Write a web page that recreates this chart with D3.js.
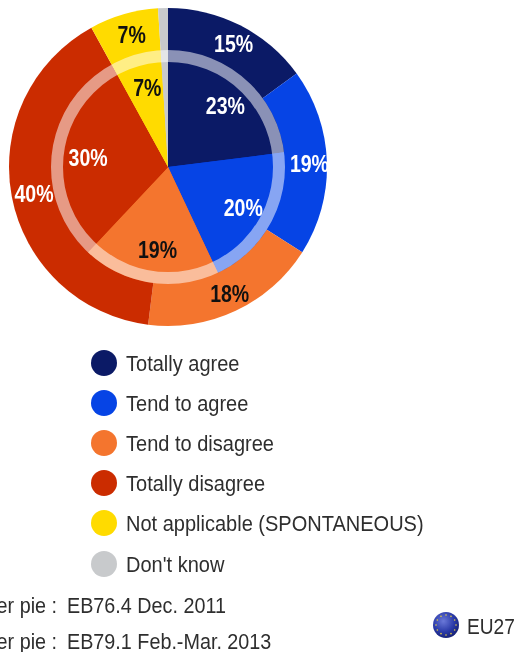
<!DOCTYPE html>
<html><head><meta charset="utf-8">
<script src="https://cdnjs.cloudflare.com/ajax/libs/d3/7.8.5/d3.min.js"></script>
<style>html,body{margin:0;padding:0;background:#fff;overflow:hidden}svg{display:block;filter:blur(.5px)}text{font-family:"Liberation Sans",Arial,sans-serif}</style>
</head><body><svg id="c" width="516" height="652"></svg>
<script>
const categories=["Totally agree","Tend to agree","Tend to disagree","Totally disagree","Not applicable (SPONTANEOUS)","Don't know"];
const colors=["#0B1A66","#0644E5","#F4752E","#CB2C00","#FFDB00","#C8CACC"];
const outerValues=[15,19,18,40,7,1];
const innerValues=[23,20,19,30,7,1];
const labelColors=["#fff","#fff","#111","#fff","#111",null];
const footerLabels=["Inner pie :","Outer pie :"];
const footerValues=["EB76.4 Dec. 2011","EB79.1 Feb.-Mar. 2013"];
const regionLabel="EU27";

const svg=d3.select("#c");
const cx=168,cy=167,R=159,r=117;
const g=svg.append("g").attr("transform",`translate(${cx},${cy})`);
const pie=d3.pie().sort(null).value(d=>d);

function ring(vals,rad,labelR){
  const arcs=pie(vals);
  const arc=d3.arc().innerRadius(0).outerRadius(rad);
  g.append("g").selectAll("path").data(arcs).join("path")
    .attr("d",arc).attr("fill",(d,i)=>colors[i]);
  return {arcs,lab:d3.arc().innerRadius(labelR).outerRadius(labelR)};
}
const o=ring(outerValues,R,139);
const n=ring(innerValues,r,83);
g.append("circle").attr("r",r-6).attr("fill","none").attr("stroke","#fff").attr("stroke-opacity",.52).attr("stroke-width",12);

function labels(s){
  g.append("g").selectAll("text").data(s.arcs.filter((d,i)=>labelColors[i])).join("text")
    .attr("transform",d=>{const p=s.lab.centroid(d);return `translate(${p[0]+2.5},${p[1]+9}) scale(.85,1)`})
    .attr("text-anchor","middle").attr("font-size",23).attr("font-weight","bold")
    .attr("fill",d=>labelColors[d.index]).text(d=>d.value+"%");
}
labels(o);labels(n);

const y=d3.scaleOrdinal().domain(categories).range([363,403,443,483,523,564]);
const lg=svg.append("g").selectAll("g").data(categories).join("g");
lg.append("circle").attr("cx",104).attr("cy",d=>y(d)).attr("r",13).attr("fill",(d,i)=>colors[i]);
lg.append("text").attr("transform",d=>`translate(126,${y(d)+7.5}) scale(.89,1)`)
  .attr("font-size",22.5).attr("fill","#2e2e2e").text(d=>d);

const fy=d3.scalePoint().domain(footerValues).range([613,649]);
const f=svg.append("g").selectAll("g").data(footerValues).join("g");
f.append("text").attr("transform",d=>`translate(57,${fy(d)}) scale(.92,1)`).attr("text-anchor","end")
  .attr("font-size",21.5).attr("fill","#2e2e2e").text((d,i)=>footerLabels[i]);
f.append("text").attr("transform",d=>`translate(67,${fy(d)}) scale(.92,1)`)
  .attr("font-size",21.5).attr("fill","#2e2e2e").text(d=>d);

const grad=svg.append("defs").append("radialGradient").attr("id","eu").attr("cx","40%").attr("cy","35%").attr("r","70%");
grad.append("stop").attr("offset","0%").attr("stop-color","#6A78D8");
grad.append("stop").attr("offset","60%").attr("stop-color","#2A3AA8");
grad.append("stop").attr("offset","100%").attr("stop-color","#141F70");
const fx=446,fyy=625;
svg.append("circle").attr("cx",fx).attr("cy",fyy).attr("r",13).attr("fill","url(#eu)");
svg.append("g").selectAll("circle").data(d3.range(12)).join("circle")
  .attr("cx",d=>fx+10*Math.sin(d*Math.PI/6)).attr("cy",d=>fyy-10*Math.cos(d*Math.PI/6))
  .attr("r",.8).attr("fill","#E8D040");
svg.append("text").attr("transform","translate(467,634) scale(.85,1)").attr("font-size",22.5).attr("fill","#2e2e2e").text(regionLabel);
</script></body></html>
